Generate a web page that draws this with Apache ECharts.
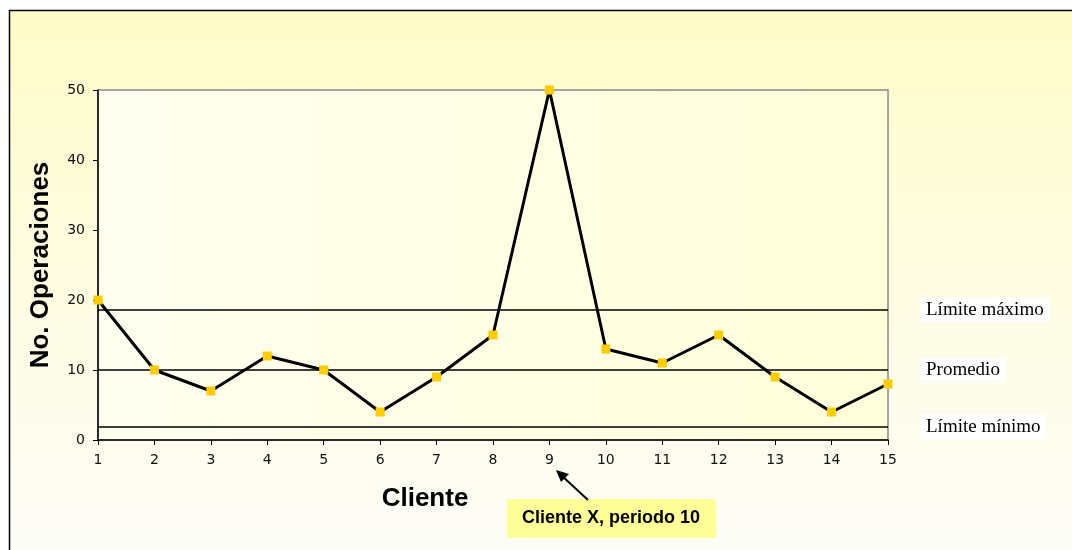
<!DOCTYPE html>
<html>
<head>
<meta charset="utf-8">
<script src="https://cdn.jsdelivr.net/npm/echarts@6/dist/echarts.min.js"></script>
<style>
  html, body { margin: 0; padding: 0; background: #ffffff; }
  #chart { width: 1072px; height: 550px; }
</style>
</head>
<body>
<div id="chart"></div>
<script>
// Clientes y número de operaciones por cliente
const clientes = ['1','2','3','4','5','6','7','8','9','10','11','12','13','14','15'];
const operaciones = [20, 10, 7, 12, 10, 4, 9, 15, 50, 13, 11, 15, 9, 4, 8];

// Límites de control
const limiteNombres = ['Límite máximo', 'Promedio', 'Límite mínimo'];
const limiteValores = [18.6, 10, 1.9];

const yTicks = [0, 10, 20, 30, 40, 50];

const chart = echarts.init(document.getElementById('chart'), null, { renderer: 'canvas' });

const option = {
  animation: false,
  graphic: [
    {
      type: 'rect',
      z: -100,
      shape: { x: 9.5, y: 10.5, width: 1100, height: 600 },
      style: {
        fill: new echarts.graphic.LinearGradient(0, 0, 0, 1, [
          { offset: 0, color: '#FFFCC9' },
          { offset: 0.9, color: '#FDFDF8' },
          { offset: 1, color: '#FDFDF8' }
        ]),
        stroke: '#000000',
        lineWidth: 1.5
      }
    },
    {
      type: 'text',
      z: 10,
      x: 425, y: 499,
      style: {
        text: 'Cliente',
        fontFamily: 'Liberation Sans, Arial, sans-serif',
        fontWeight: 'bold',
        fontSize: 26,
        fill: '#000000',
        align: 'center',
        verticalAlign: 'middle'
      }
    },
    {
      type: 'rect',
      z: 50,
      shape: { x: 507, y: 499, width: 209, height: 39 },
      style: { fill: '#FFFF99' }
    },
    {
      type: 'text',
      z: 51,
      x: 611, y: 518,
      style: {
        text: 'Cliente X, periodo 10',
        fontFamily: 'Liberation Sans, Arial, sans-serif',
        fontWeight: 'bold',
        fontSize: 18,
        fill: '#000000',
        align: 'center',
        verticalAlign: 'middle'
      }
    },
    {
      type: 'line',
      z: 51,
      shape: { x1: 588, y1: 500, x2: 561, y2: 475 },
      style: { stroke: '#000000', lineWidth: 2 }
    },
    {
      type: 'polygon',
      z: 51,
      shape: { points: [[556, 470], [569, 474], [561, 482]] },
      style: { fill: '#000000' }
    }
  ],
  grid: {
    left: 98, right: 184, top: 90, bottom: 110,
    show: true,
    backgroundColor: new echarts.graphic.LinearGradient(0, 0, 1, 0, [
      { offset: 0, color: '#FFFFF0' },
      { offset: 1, color: '#FFFFDA' }
    ]),
    borderColor: '#888888',
    borderWidth: 1.5
  },
  xAxis: {
    type: 'category',
    data: clientes,
    boundaryGap: false,
    axisLine: { lineStyle: { color: '#000000', width: 1.5 } },
    axisTick: { alignWithLabel: true, length: 5, lineStyle: { color: '#000000', width: 1 } },
    axisLabel: {
      margin: 13,
      fontFamily: 'DejaVu Sans, sans-serif',
      fontSize: 14,
      color: '#111111'
    },
    splitLine: { show: false }
  },
  yAxis: {
    type: 'value',
    min: yTicks[0],
    max: yTicks[yTicks.length - 1],
    interval: 10,
    name: 'No. Operaciones',
    nameLocation: 'middle',
    nameGap: 44,
    nameRotate: 90,
    nameTextStyle: {
      fontFamily: 'Liberation Sans, Arial, sans-serif',
      fontWeight: 'bold',
      fontSize: 26,
      color: '#000000'
    },
    axisLine: { show: true, lineStyle: { color: '#000000', width: 1.5 } },
    axisTick: { show: true, length: 5, lineStyle: { color: '#000000', width: 1 } },
    axisLabel: {
      margin: 13,
      fontFamily: 'DejaVu Sans, sans-serif',
      fontSize: 14,
      color: '#111111'
    },
    splitLine: { show: false }
  },
  series: [
    {
      type: 'line',
      data: operaciones,
      z: 5,
      symbol: 'rect',
      symbolSize: 9,
      showAllSymbol: true,
      lineStyle: { color: '#000000', width: 3 },
      itemStyle: { color: '#FFCC00', borderWidth: 0 },
      markLine: {
        silent: true,
        symbol: ['none', 'none'],
        lineStyle: { color: '#000000', width: 1.5, type: 'solid' },
        label: {
          show: true,
          position: 'end',
          distance: 32,
          formatter: p => p.name,
          fontFamily: 'Liberation Serif, Times New Roman, serif',
          fontSize: 19,
          color: '#000000',
          backgroundColor: '#FFFFFF',
          padding: [3, 6]
        },
        data: limiteNombres.map((n, i) => ({ name: n, yAxis: limiteValores[i] }))
      }
    }
  ]
};

chart.setOption(option);
</script>
</body>
</html>
